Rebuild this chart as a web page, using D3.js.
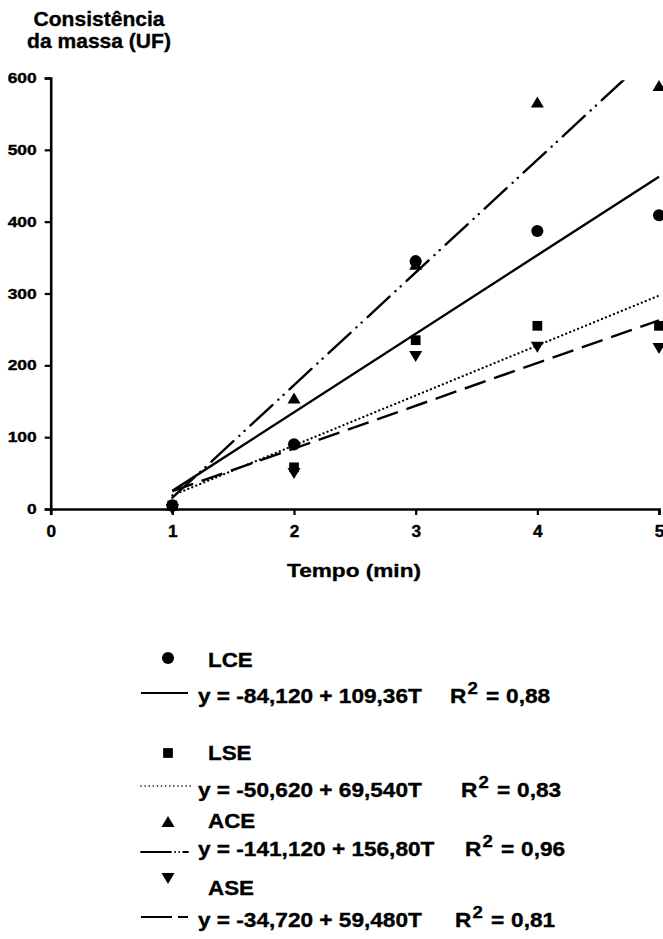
<!DOCTYPE html>
<html>
<head>
<meta charset="utf-8">
<script src="https://cdn.jsdelivr.net/npm/d3@7"></script>
<style>
  html, body { margin: 0; padding: 0; background: #fff; }
  svg { display: block; }
  text { font-family: "Liberation Sans", Arial, Helvetica, sans-serif; font-weight: bold; fill: #000; stroke: #000; stroke-width: 0.35px; }
</style>
</head>
<body>
<svg id="chart" width="663" height="939"></svg>
<script>
// Mixing time (min) and dough consistency (UF) for four treatments
const tempo = [1, 2, 3, 4, 5];
const xTicks = [0, 1, 2, 3, 4, 5];
const yTicks = [0, 100, 200, 300, 400, 500, 600];

const seriesNames = ["LCE", "LSE", "ACE", "ASE"];
const lceValues = [5, 90, 345, 387, 409];
const lseValues = [5, 58, 235, 255, 255];
const aceValues = [5, 154, 340, 566, 589];
const aseValues = [0, 50, 213, 226, 224];

// Linear fits y = a + bT
const intercepts = [-84.120, -50.620, -141.120, -34.720];
const slopes = [109.36, 69.540, 156.80, 59.480];
const eqLabels = [
  "y = -84,120 + 109,36T",
  "y = -50,620 + 69,540T",
  "y = -141,120 + 156,80T",
  "y = -34,720 + 59,480T"
];
const r2Labels = ["0,88", "0,83", "0,96", "0,81"];

const yTitle = ["Consistência", "da massa (UF)"];
const xTitle = "Tempo (min)";

const valuesBySeries = [lceValues, lseValues, aceValues, aseValues];

// Per-series look: marker shape, dash pattern in the plot and in the legend
const styles = [
  { symbol: "circle",  dash: null,                   legendDash: null,                width: 2.4, cap: "butt" },
  { symbol: "square",  dash: "0.1 4.2",              legendDash: "0.1 4",             width: 2.2, cap: "round" },
  { symbol: "triUp",   dash: "30 8 0.1 7 0.1 8",     legendDash: "30 4 0.1 4 0.1 4",  width: 2.4, cap: "round" },
  { symbol: "triDown", dash: "22 9",                 legendDash: "31 6",              width: 2.4, cap: "butt" }
];

const svg = d3.select("#chart");

const x = d3.scaleLinear().domain([0, 5]).range([50.7, 659]);
const y = d3.scaleLinear().domain([0, 600]).range([509, 78]);

function stretched(sel, sx) {
  return sel.attr("transform", function () {
    const px = +this.getAttribute("data-x"), py = +this.getAttribute("data-y");
    return `translate(${px},${py}) scale(${sx},1)`;
  });
}

function symbolPath(kind) {
  if (kind === "circle") return d3.symbol(d3.symbolCircle, 115)();
  if (kind === "square") return d3.symbol(d3.symbolSquare, 95)();
  if (kind === "triUp") return "M0,-6L6.5,5L-6.5,5Z";
  return "M0,6L6.5,-5L-6.5,-5Z";
}

// Y title (two lines)
svg.append("g").selectAll("text")
  .data(yTitle).join("text")
  .attr("data-x", 99).attr("data-y", (d, i) => 26 + i * 22)
  .attr("text-anchor", "middle")
  .style("font-size", "19.5px")
  .text(d => d)
  .call(stretched, 1.08);

// Axes
const yAxis = svg.append("g")
  .attr("transform", `translate(${x(0)},0)`)
  .call(d3.axisLeft(y).tickValues(yTicks).tickSize(6).tickPadding(7).tickFormat(d3.format("d")));
const xAxis = svg.append("g")
  .attr("transform", `translate(0,${y(0)})`)
  .call(d3.axisBottom(x).tickValues(xTicks).tickSize(6).tickPadding(11).tickFormat(d3.format("d")));

[yAxis, xAxis].forEach(ax => {
  ax.attr("font-size", null).attr("font-family", null);
  ax.select(".domain").attr("stroke", "#000").attr("stroke-width", 2.6);
  ax.selectAll(".tick line").attr("stroke", "#000").attr("stroke-width", 2.2);
  ax.selectAll("text").attr("fill", "#000");
});
yAxis.selectAll(".tick text")
  .style("font-size", "14.5px")
  .attr("transform", "scale(1.2,1)")
  .attr("x", -14 / 1.2);
xAxis.selectAll(".tick text")
  .style("font-size", "16px")
  .attr("transform", "scale(1.08,1)");

// X title
svg.append("text")
  .attr("data-x", 354).attr("data-y", 577)
  .attr("text-anchor", "middle")
  .style("font-size", "19px")
  .text(xTitle)
  .call(stretched, 1.19);

// Clip for fitted lines
svg.append("defs").append("clipPath").attr("id", "plotClip")
  .append("rect")
  .attr("x", x(0)).attr("y", y(597))
  .attr("width", x(5) - x(0) + 4).attr("height", y(0) - y(597));

const line = d3.line().x(d => x(d[0])).y(d => y(d[1]));

const fits = svg.append("g").attr("clip-path", "url(#plotClip)");
seriesNames.forEach((name, i) => {
  const pts = [1, 5].map(t => [t, intercepts[i] + slopes[i] * t]);
  fits.append("path")
    .attr("d", line(pts))
    .attr("fill", "none")
    .attr("stroke", "#000")
    .attr("stroke-width", styles[i].width)
    .attr("stroke-linecap", styles[i].cap)
    .attr("stroke-dasharray", styles[i].dash);
});

// Observed points (draw order so circles sit on top)
const drawOrder = [2, 3, 1, 0];
const marks = svg.append("g");
drawOrder.forEach(i => {
  marks.selectAll(null)
    .data(tempo.map((t, k) => [t, valuesBySeries[i][k]]))
    .join("path")
    .attr("transform", d => `translate(${x(d[0])},${y(d[1])})`)
    .attr("d", symbolPath(styles[i].symbol))
    .attr("fill", "#000");
});

// Legend
const legendRows = [
  { marker: 658, label: 667, line: 693, eq: 703, rx: 450 },
  { marker: 753, label: 760, line: 786, eq: 797, rx: 461 },
  { marker: 822, label: 828, line: 852, eq: 856, rx: 465 },
  { marker: 878, label: 895, line: 917, eq: 927, rx: 455 }
];
const eqScale = 1.16;
const legend = svg.append("g");
seriesNames.forEach((name, i) => {
  const r = legendRows[i];
  legend.append("path")
    .attr("transform", `translate(168,${r.marker})`)
    .attr("d", symbolPath(styles[i].symbol))
    .attr("fill", "#000");
  legend.append("text")
    .attr("data-x", 208).attr("data-y", r.label)
    .style("font-size", "20px")
    .text(name)
    .call(stretched, 1.12);
  legend.append("line")
    .attr("x1", 141).attr("x2", i === 1 ? 191 : 188)
    .attr("y1", r.line).attr("y2", r.line)
    .attr("stroke", "#000")
    .attr("stroke-width", i === 1 ? 1.6 : 1.8)
    .attr("stroke-linecap", styles[i].cap)
    .attr("stroke-dasharray", styles[i].legendDash);
  legend.append("text")
    .attr("data-x", 198).attr("data-y", r.eq)
    .style("font-size", "19.5px")
    .text(eqLabels[i])
    .call(stretched, eqScale);
  const rt = legend.append("text")
    .attr("data-x", r.rx).attr("data-y", r.eq)
    .style("font-size", "19.5px")
    .call(stretched, eqScale);
  rt.append("tspan").text("R");
  rt.append("tspan").attr("dx", 1).attr("dy", -9).style("font-size", "16px").text("2");
  rt.append("tspan").attr("dx", 7).attr("dy", 9).text("=");
  rt.append("tspan").attr("dx", 6).text(r2Labels[i]);
});
</script>
</body>
</html>
